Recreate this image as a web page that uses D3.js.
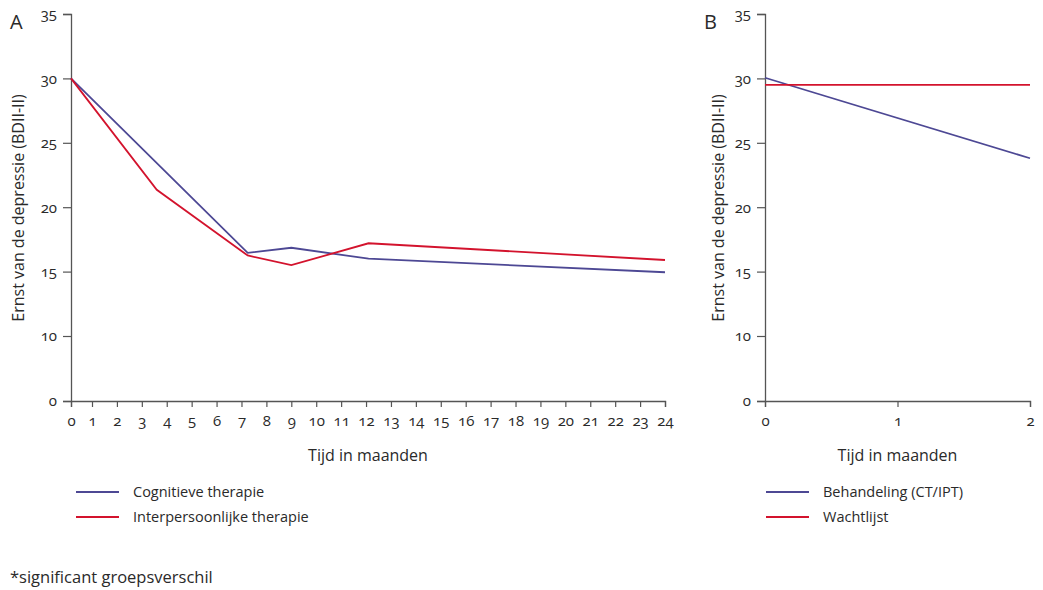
<!DOCTYPE html>
<meta charset="utf-8">
<script src="https://d3js.org/d3.v7.min.js"></script>
<style>
  body { margin: 0; background: #fff; }
  text { font-family: "Open Sans", "Noto Sans", sans-serif; fill: #2a2a2a; }
  .num { font-variant-numeric: oldstyle-nums; font-feature-settings: "onum" 1; }
</style>
<div id="chart"></div>
<script>

  // panel A: months and scores per treatment
  var monthsCT  = [0, 7.25, 9, 12.1, 24];
  var scoresCT  = [30, 16.45, 16.85, 16.0, 14.95];
  var monthsIPT = [0, 3.6, 7.25, 9, 12.1, 24];
  var scoresIPT = [30, 21.35, 16.25, 15.5, 17.2, 15.9];

  // panel B: treatment vs waiting list
  var monthsB     = [0, 2];
  var scoresTreat = [30.05, 23.8];
  var scoresWait  = [29.5, 29.5];

  var yTicks  = [0, 10, 15, 20, 25, 30, 35];
  var xTicksA = d3.range(0, 25);
  var xTicksB = [0, 1, 2];

  var seriesA = ["Cognitieve therapie", "Interpersoonlijke therapie"];
  var seriesB = ["Behandeling (CT/IPT)", "Wachtlijst"];
  var colors  = ["#4d4894", "#d3132d"];

  var yTitle = "Ernst van de depressie (BDII-II)";
  var xTitle = "Tijd in maanden";

  var svg = d3.select("#chart")
    .append("svg")
    .attr("width", 1043)
    .attr("height", 590);

  // y axis is broken between 0 and 10
  var y = d3.scaleLinear()
    .domain([0, 10, 35])
    .range([401, 336, 14]);

  var xA = d3.scaleLinear()
    .domain([0, 1, 24])
    .range([71, 92, 665]);

  var xB = d3.scaleLinear()
    .domain([0, 2])
    .range([765, 1030]);

  function drawPanel(x, xTicks, left, label, lines, names, titleX, legX) {
    var g = svg.append("g");

    var yAxis = g.append("g")
      .attr("class", "num")
      .attr("transform", "translate(" + left + ",0)")
      .call(d3.axisLeft(y).tickValues(yTicks).tickSize(8).tickPadding(6));

    var xAxis = g.append("g")
      .attr("class", "num")
      .attr("transform", "translate(0," + y(0) + ")")
      .call(d3.axisBottom(x).tickValues(xTicks).tickSize(6).tickPadding(8)
        .tickFormat(d3.format("d")));

    [yAxis, xAxis].forEach(function (a) {
      a.select(".domain").attr("stroke", "#555").attr("stroke-width", 1.3);
      a.selectAll(".tick line").attr("stroke", "#555").attr("stroke-width", 1.2);
      a.selectAll(".tick text")
        .style("font-size", "15px")
        .style("font-family", "'Open Sans', sans-serif")
        .attr("fill", "#2a2a2a");
    });

    // panel letter
    g.append("text")
      .attr("x", left - 61)
      .attr("y", 29)
      .style("font-size", "20px")
      .text(label);

    // axis titles
    g.append("text")
      .attr("text-anchor", "middle")
      .attr("transform", "rotate(-90)")
      .attr("x", -208)
      .attr("y", titleX)
      .style("font-size", "16px")
      .text(yTitle);

    g.append("text")
      .attr("text-anchor", "middle")
      .attr("x", (x.range()[0] + x.range()[x.range().length - 1]) / 2)
      .attr("y", 461)
      .style("font-size", "16px")
      .text(xTitle);

    var line = d3.line()
      .x(function (d) { return x(d[0]); })
      .y(function (d) { return y(d[1]); });

    lines.forEach(function (pts, i) {
      g.append("path")
        .datum(pts)
        .attr("fill", "none")
        .attr("stroke", colors[i])
        .attr("stroke-width", 1.8)
        .attr("d", line);
    });

    // legend
    names.forEach(function (n, i) {
      var ly = 492 + i * 25;
      g.append("line")
        .attr("x1", legX)
        .attr("x2", legX + 43)
        .attr("y1", ly)
        .attr("y2", ly)
        .attr("stroke", colors[i])
        .attr("stroke-width", 1.8);
      g.append("text")
        .attr("x", legX + 57)
        .attr("y", ly + 5)
        .style("font-size", "14.5px")
        .text(n);
    });
  }

  drawPanel(xA, xTicksA, 71, "A",
    [d3.zip(monthsCT, scoresCT), d3.zip(monthsIPT, scoresIPT)], seriesA, 24, 76);

  drawPanel(xB, xTicksB, 765, "B",
    [d3.zip(monthsB, scoresTreat), d3.zip(monthsB, scoresWait)], seriesB, 724, 766);

  svg.append("text")
    .attr("x", 10)
    .attr("y", 583)
    .style("font-size", "16.5px")
    .text("*significant groepsverschil");

</script>
